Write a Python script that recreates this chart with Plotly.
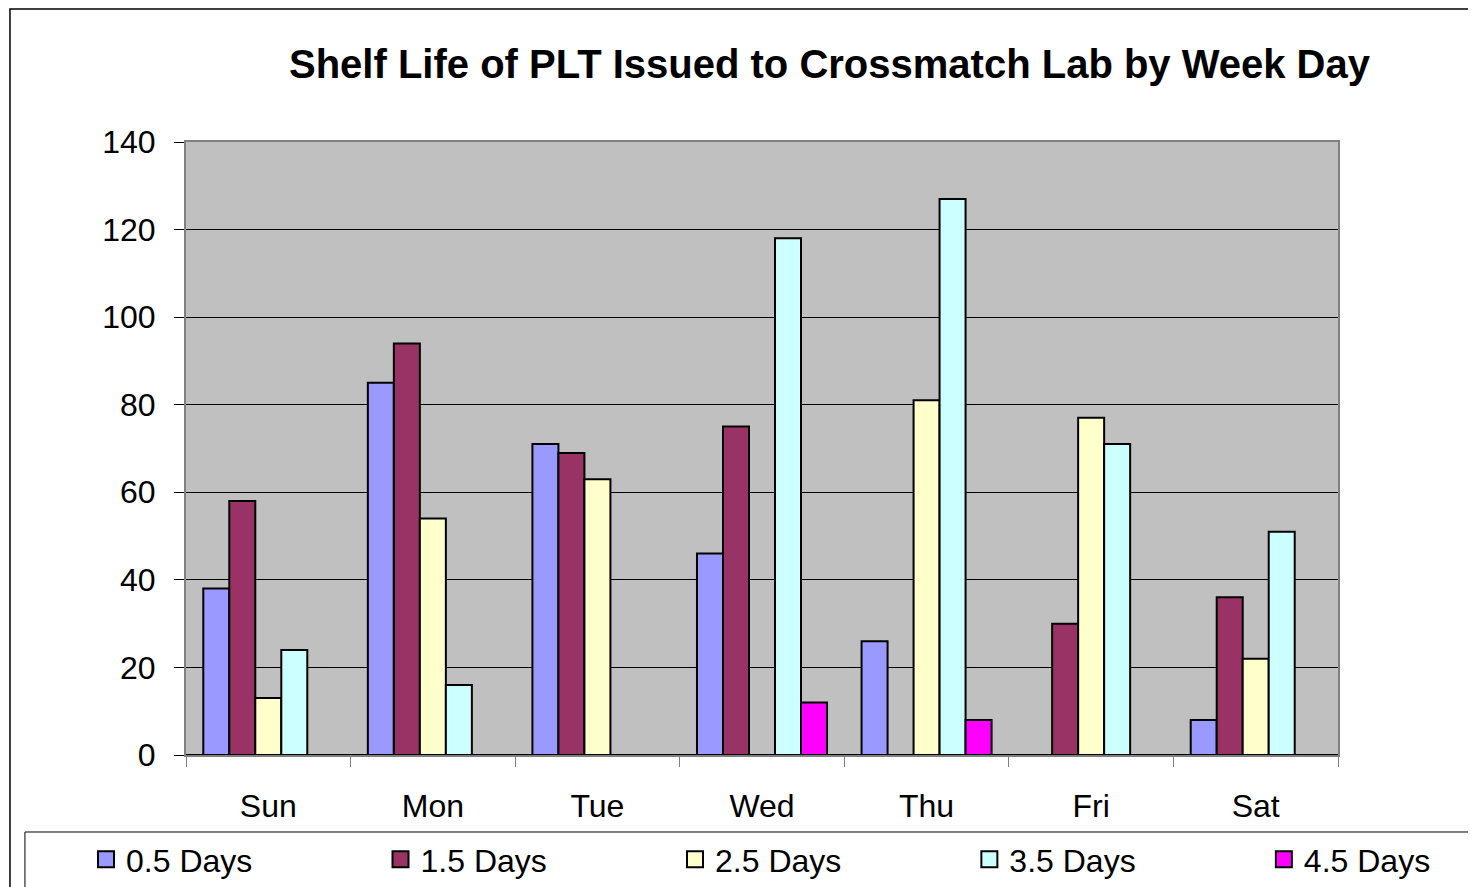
import plotly.graph_objects as go

days = ['Sun', 'Mon', 'Tue', 'Wed', 'Thu', 'Fri', 'Sat']
series_names = ['0.5 Days', '1.5 Days', '2.5 Days', '3.5 Days', '4.5 Days']
half_day = [38, 85, 71, 46, 26, 0, 8]
one_half_day = [58, 94, 69, 75, 0, 30, 36]
two_half_day = [13, 54, 63, 0, 81, 77, 22]
three_half_day = [24, 16, 0, 118, 127, 71, 51]
four_half_day = [0, 0, 0, 12, 8, 0, 0]
colors = ['#9999FF', '#993366', '#FFFFCC', '#CCFFFF', '#FF00FF']

FONT = 'Liberation Sans, Arial, sans-serif'

fig = go.Figure()
all_series = [half_day, one_half_day, two_half_day, three_half_day, four_half_day]
for name, vals, col in zip(series_names, all_series, colors):
    fig.add_trace(go.Bar(x=days, y=vals, name=name, showlegend=False,
                         marker=dict(color=col, line=dict(color='black', width=2))))

# legend keys: square markers so they can be drawn larger than the bar swatch
for i, (name, col) in enumerate(zip(series_names, colors)):
    fig.add_trace(go.Scatter(x=[None], y=[None], name=name, mode='markers',
                             legend='legend' if i < 3 else 'legend2',
                             marker=dict(symbol='square', size=20, color=col,
                                         line=dict(color='black', width=2))))

legend_style = dict(orientation='h', xanchor='left', y=-0.1256, yanchor='top',
                    entrywidth=249.5, entrywidthmode='pixels',
                    font=dict(family=FONT, size=32, color='black'),
                    bgcolor='rgba(0,0,0,0)', traceorder='normal')

# page body adds an 8px offset, so the figure is 8px smaller than the window
fig.update_layout(
    width=1468, height=879,
    margin=dict(l=178, r=138, t=134, b=132, autoexpand=False),
    paper_bgcolor='white',
    plot_bgcolor='#C0C0C0',
    barmode='group', bargap=0.21, bargroupgap=0,
    font=dict(family=FONT, size=32, color='black'),
    title=dict(text='<b>Shelf Life of PLT Issued to Crossmatch Lab by Week Day</b>',
               font=dict(family=FONT, size=40, color='black'),
               xref='paper', x=0.5586, xanchor='center',
               yref='container', y=1 - 56 / 879, yanchor='middle'),
    showlegend=True,
    legend=dict(x=-0.0868, **legend_style),
    legend2=dict(x=0.680, **legend_style),
    shapes=[
        # outer chart frame
        dict(type='rect', xref='paper', yref='paper', x0=-0.1528, x1=1.2, y0=-0.3, y1=1.217,
             line=dict(color='black', width=1.5), fillcolor='rgba(0,0,0,0)', layer='below'),
        # legend frame
        dict(type='rect', xref='paper', yref='paper', x0=-0.1398, x1=1.2, y0=-0.3, y1=-0.1256,
             line=dict(color='black', width=1), fillcolor='rgba(0,0,0,0)', layer='below'),
    ],
)

fig.update_xaxes(
    showline=True, linecolor='#808080', linewidth=2, mirror=True,
    ticks='outside', tickson='boundaries', ticklen=10, tickcolor='#808080', tickwidth=1,
    ticklabelstandoff=22, showgrid=False,
)
fig.update_yaxes(
    range=[0, 140], dtick=20,
    showline=True, linecolor='#808080', linewidth=2, mirror=True,
    ticks='outside', ticklen=10, tickcolor='black', tickwidth=1,
    ticklabelstandoff=12,
    showgrid=True, gridcolor='black', gridwidth=1,
    zeroline=True, zerolinecolor='black', zerolinewidth=2,
)

fig.write_html("out.html")
